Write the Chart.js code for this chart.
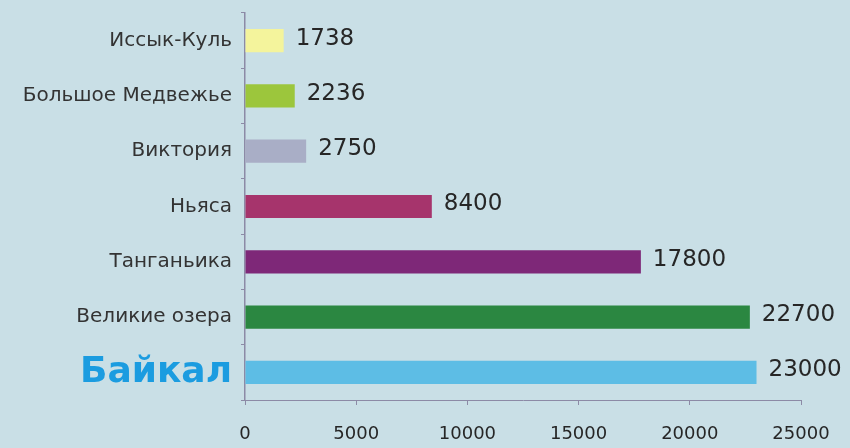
<!DOCTYPE html>
<html>
<head>
<meta charset="utf-8">
<script src="https://cdn.jsdelivr.net/npm/chart.js@4"></script>
<style>
  html, body { margin: 0; padding: 0; background: #c9dfe6; }
  #wrap { width: 850px; height: 448px; }
</style>
</head>
<body>
<div id="wrap"><canvas id="chart" width="850" height="448"></canvas></div>
<script>
// Data
const lakes = ['Иссык-Куль', 'Большое Медвежье', 'Виктория', 'Ньяса', 'Танганьика', 'Великие озера', 'Байкал'];
const volumes = [1738, 2236, 2750, 8400, 17800, 22700, 23000];
const barColors = ['#f4f49c', '#9cc63c', '#a9aec6', '#a6346c', '#7e2878', '#2b8741', '#5dbde5'];
const xTicks = [0, 5000, 10000, 15000, 20000, 25000];

const axisColor = '#8c8aa6';

// Value labels next to each bar
const valueLabels = {
    id: 'valueLabels',
    afterDatasetsDraw(chart) {
        const ctx = chart.ctx;
        const meta = chart.getDatasetMeta(0);
        ctx.save();
        ctx.font = '23px "DejaVu Sans"';
        ctx.fillStyle = '#262626';
        ctx.textBaseline = 'middle';
        ctx.textAlign = 'left';
        meta.data.forEach((bar, i) => {
            ctx.fillText(String(volumes[i]), bar.x + 12, bar.y - 2);
        });
        ctx.restore();
    }
};

new Chart(document.getElementById('chart'), {
    type: 'bar',
    data: {
        labels: lakes,
        datasets: [{
            data: volumes,
            backgroundColor: barColors,
            borderWidth: 0,
            barPercentage: 0.42,
            categoryPercentage: 1
        }]
    },
    options: {
        indexAxis: 'y',
        responsive: false,
        animation: false,
        layout: { padding: { top: 13, right: 49, left: 0, bottom: 0 } },
        plugins: {
            legend: { display: false },
            tooltip: { enabled: false }
        },
        scales: {
            y: {
                afterFit: scale => {
                    scale.width = 245;
                    scale.paddingTop = 0;
                    scale.paddingBottom = 0;
                },
                border: { display: true, color: axisColor, width: 1.5 },
                grid: { drawOnChartArea: false, drawTicks: true, tickLength: 4, color: axisColor, offset: true },
                ticks: {
                    padding: 9,
                    color: ctx => ctx.index === 6 ? '#1b9ce0' : '#333333',
                    font: ctx => ctx.index === 6
                        ? { family: '"DejaVu Sans"', size: 36, weight: 'bold' }
                        : { family: '"DejaVu Sans"', size: 20 }
                }
            },
            x: {
                min: 0,
                max: 25000,
                afterFit: scale => { scale.height = 48; },
                afterBuildTicks: scale => { scale.ticks = xTicks.map(v => ({ value: v })); },
                border: { display: true, color: axisColor, width: 1 },
                grid: { drawOnChartArea: false, drawTicks: true, tickLength: 5, color: axisColor },
                ticks: {
                    padding: 19,
                    color: '#262626',
                    maxRotation: 0,
                    font: { family: '"DejaVu Sans"', size: 18 },
                    callback: value => String(value)
                }
            }
        }
    },
    plugins: [valueLabels]
});
</script>
</body>
</html>
